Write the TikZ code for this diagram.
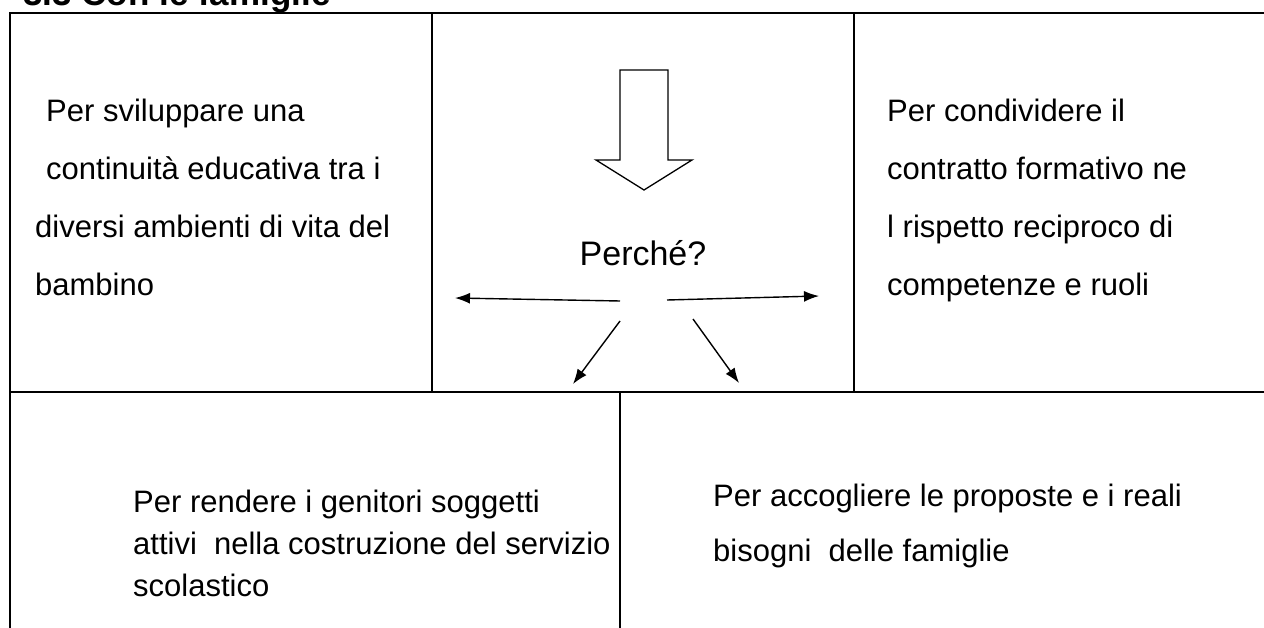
\documentclass[tikz,border=0pt]{standalone}
\usepackage{fontspec}
\setmainfont{Liberation Sans}
\usetikzlibrary{arrows.meta}
\begin{document}
\begin{tikzpicture}[x=1pt,y=-1pt,
  frame/.style={line width=2.4pt},
  txt/.style={anchor=north west, inner sep=0pt, align=left, font=\fontsize{31}{58}\selectfont},
  txtbl/.style={anchor=north west, inner sep=0pt, align=left, font=\fontsize{31}{42}\selectfont},
  txtbr/.style={anchor=north west, inner sep=0pt, align=left, font=\fontsize{31}{55}\selectfont},
  thinarrow/.style={line width=1.4pt, -{Latex[length=15pt,width=11pt]}},
  hollow/.style={line width=1.3pt, fill=white}
]
\useasboundingbox (0,0) rectangle (1264,628);
\clip (0,0) rectangle (1264,628);
% title (cut at top)
\node[anchor=base west, inner sep=0pt, font=\bfseries\fontsize{35}{40}\selectfont] (title) at (23,6) {3.3 Con le famiglie};
% table frame
\draw[frame] (10,640) -- (10,13) -- (1270,13);
\draw[frame] (10,392) -- (1270,392);
\draw[frame] (432,13) -- (432,392);
\draw[frame] (854,13) -- (854,392);
\draw[frame] (620,392) -- (620,640);
% texts
\node[txt] (tl) at (35,99) {\hspace*{11pt}Per sviluppare una\\\hspace*{11pt}continuità educativa tra i\\diversi ambienti di vita del\\bambino};
\node[txt] (tr) at (887,99) {Per condividere il\\contratto formativo ne\\l rispetto reciproco di\\competenze e ruoli};
\node[txtbl] (bl) at (133,490) {Per rendere i genitori soggetti\\attivi\ \ nella costruzione del servizio\\scolastico};
\node[txtbr] (br) at (713,484) {Per accogliere le proposte e i reali\\bisogni\ \ delle famiglie};
% center
\draw[hollow] (620,70) -- (668,70) -- (668,160) -- (692,160) -- (644,190) -- (596,160) -- (620,160) -- cycle;
\node[anchor=base, inner sep=0pt, font=\fontsize{34}{40}\selectfont] (q) at (643,266) {Perché?};
\coordinate (l0) at (620,301);
\coordinate (l1) at (455,298);
\coordinate (r0) at (667,300);
\coordinate (r1) at (819,296);
\coordinate (dl0) at (620,321);
\coordinate (dl1) at (573,384);
\coordinate (dr0) at (693,319);
\coordinate (dr1) at (739,383);
\draw[thinarrow] (l0) -- (l1);
\draw[thinarrow] (r0) -- (r1);
\draw[thinarrow] (dl0) -- (dl1);
\draw[thinarrow] (dr0) -- (dr1);
\end{tikzpicture}
\end{document}
